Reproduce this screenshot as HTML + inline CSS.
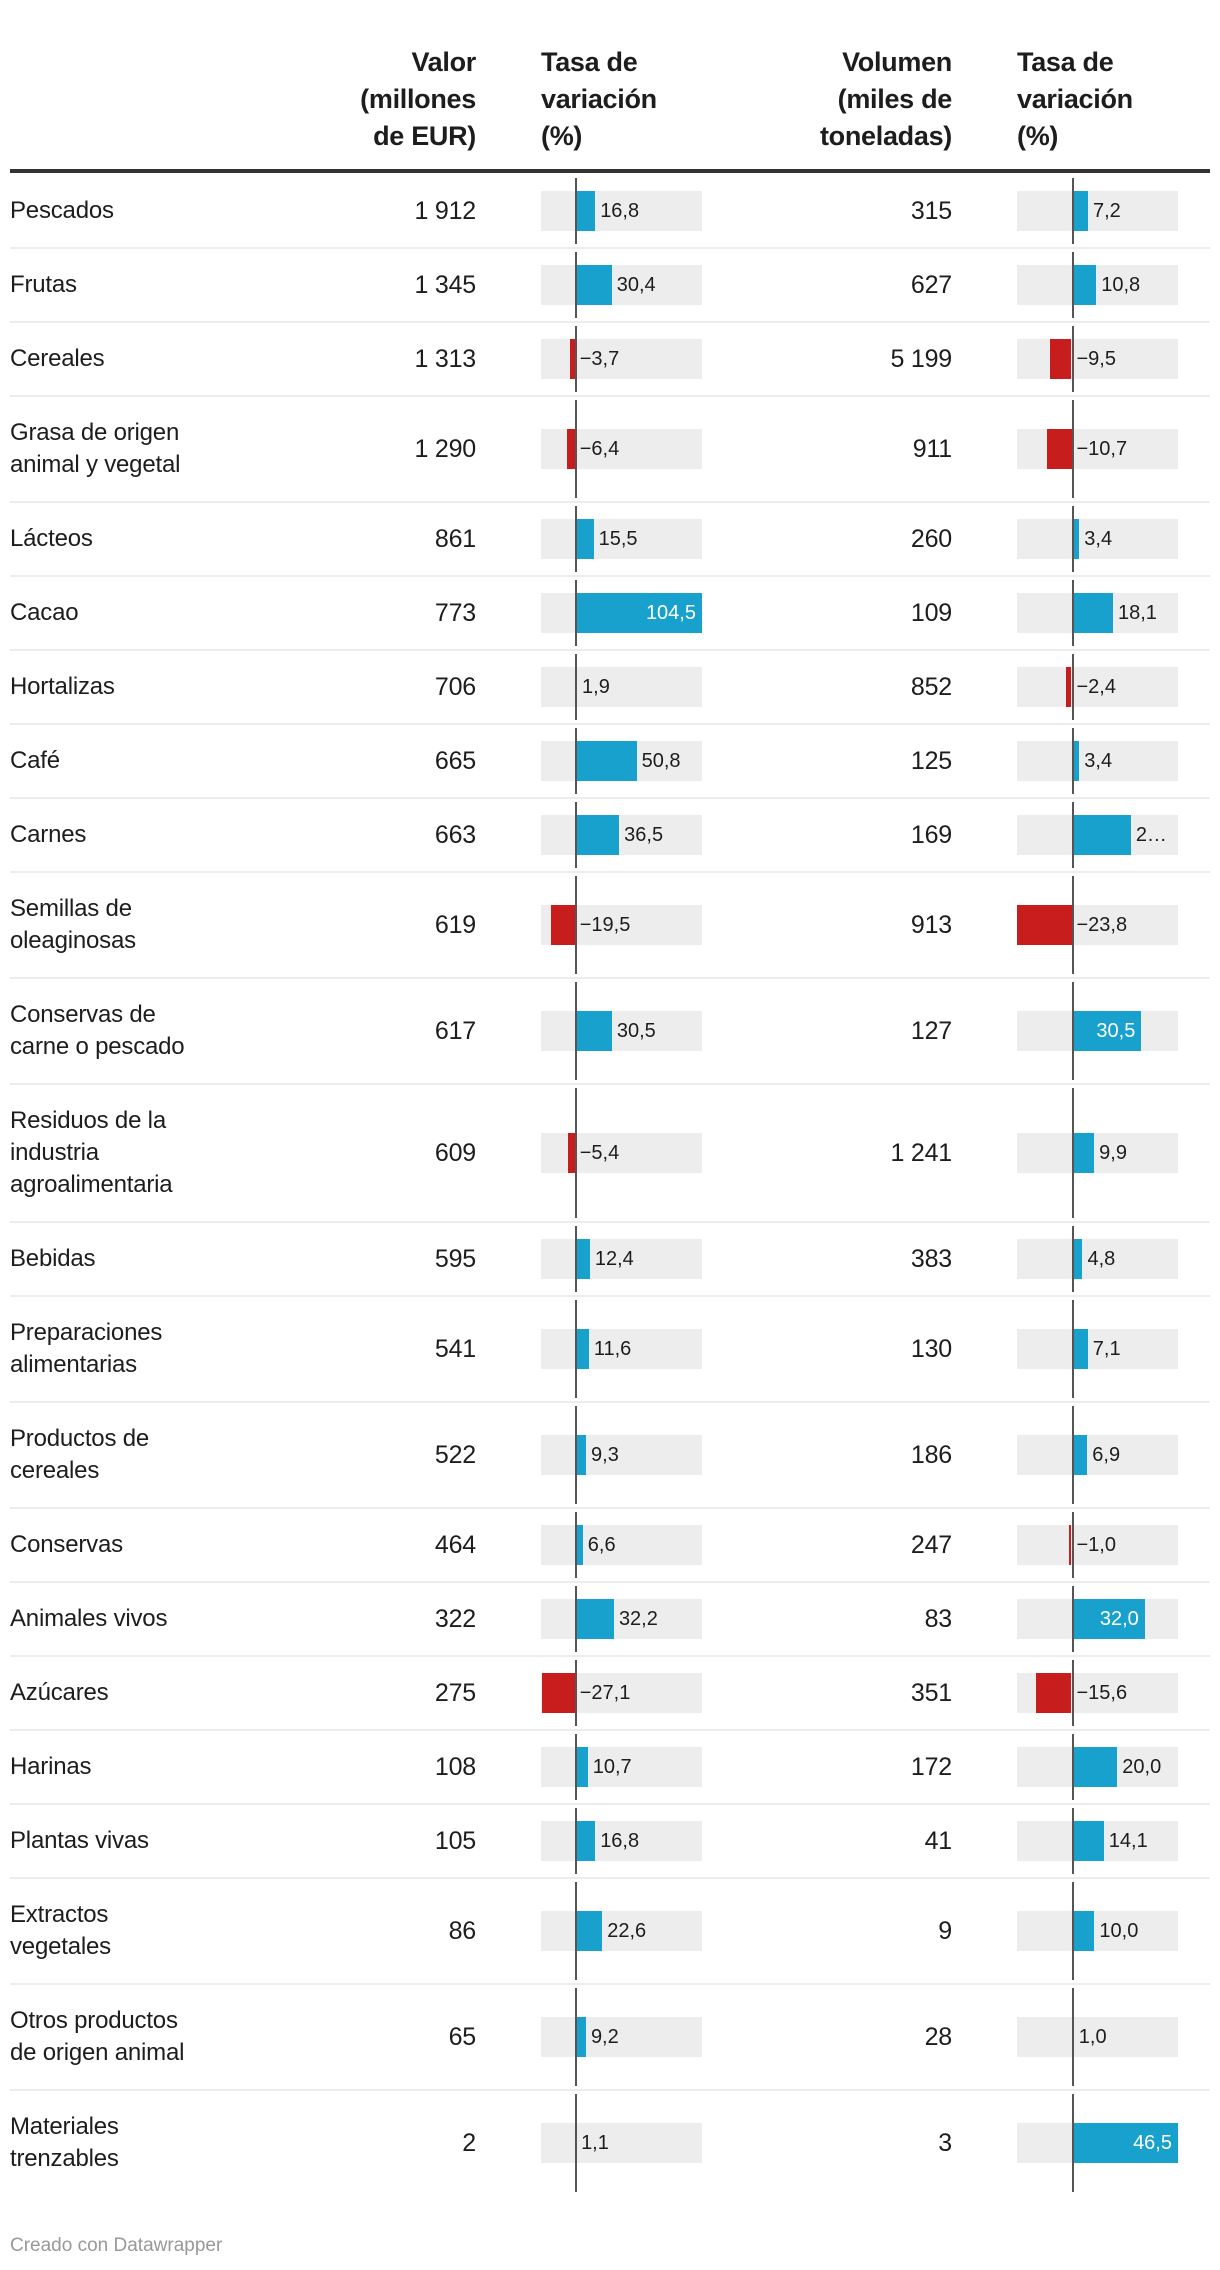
<!DOCTYPE html>
<html><head><meta charset="utf-8">
<style>
body{margin:0;background:#fff;width:1220px;height:2270px;position:relative;overflow:hidden;font-family:"Liberation Sans",sans-serif;color:#1d1d1d}
.a{position:absolute}
.hdr{position:absolute;font-weight:bold;font-size:27px;line-height:37px;color:#1d1d1d;letter-spacing:-0.3px}
.lbl{position:absolute;left:10px;font-size:24px;line-height:32px;letter-spacing:-0.2px}
.num{position:absolute;font-size:25px;text-align:right;letter-spacing:-0.2px}
.bl{position:absolute;font-size:20px;line-height:40px;white-space:nowrap}
</style></head><body>
<div class="hdr" style="right:744px;top:44px;text-align:right">Valor<br>(millones<br>de EUR)</div>
<div class="hdr" style="left:541px;top:44px">Tasa de<br>variación<br>(%)</div>
<div class="hdr" style="right:268px;top:44px;text-align:right">Volumen<br>(miles de<br>toneladas)</div>
<div class="hdr" style="left:1017px;top:44px">Tasa de<br>variación<br>(%)</div>
<div class="a" style="left:10px;top:169px;width:1200px;height:4px;background:#333"></div>
<div id="rows"></div>
<div class="a" style="left:10px;top:2235px;font-size:19px;color:#999">Creado con Datawrapper</div>
<script>
const names=["Pescados","Frutas","Cereales","Grasa de origen<br>animal y vegetal","Lácteos","Cacao","Hortalizas","Café","Carnes","Semillas de<br>oleaginosas","Conservas de<br>carne o pescado","Residuos de la<br>industria<br>agroalimentaria","Bebidas","Preparaciones<br>alimentarias","Productos de<br>cereales","Conservas","Animales vivos","Azúcares","Harinas","Plantas vivas","Extractos<br>vegetales","Otros productos<br>de origen animal","Materiales<br>trenzables"];
const valor=["1 912","1 345","1 313","1 290","861","773","706","665","663","619","617","609","595","541","522","464","322","275","108","105","86","65","2"];
const tasaValor=[16.8,30.4,-3.7,-6.4,15.5,104.5,1.9,50.8,36.5,-19.5,30.5,-5.4,12.4,11.6,9.3,6.6,32.2,-27.1,10.7,16.8,22.6,9.2,1.1];
const volumen=["315","627","5 199","911","260","109","852","125","169","913","127","1 241","383","130","186","247","83","351","172","41","9","28","3"];
const tasaVolumen=[7.2,10.8,-9.5,-10.7,3.4,18.1,-2.4,3.4,25.9,-23.8,30.5,9.9,4.8,7.1,6.9,-1.0,32.0,-15.6,20.0,14.1,10.0,1.0,46.5];
const volLabelOverride={8:"2…"};

const c1={x0:541,x1:702,min:-27.7,max:104.5};
const c2={x0:1017,x1:1178,min:-23.8,max:46.5};
function sx(c,v){return c.x0+(v-c.min)/(c.max-c.min)*(c.x1-c.x0);}
function fmt(v){return (v<0?"−":"")+Math.abs(v).toFixed(1).replace(".",",");}
const root=document.getElementById("rows");
let y=174;
function mk(cls,css,html){const d=document.createElement("div");d.className=cls;d.style.cssText=css;if(html!==undefined)d.innerHTML=html;root.appendChild(d);return d;}
function bar(c,v,cy,label,key){
  const z=sx(c,0),e=sx(c,v);
  const g=mk("a",`left:${c.x0}px;top:${cy-20}px;width:${c.x1-c.x0}px;height:40px;background:#ededed`);
  
  
  const b=mk("a",`left:${Math.min(z,e)}px;top:${cy-20}px;width:${Math.abs(e-z)}px;height:40px;background:${v<0?'#c71e1d':'#18a1cd'}`);
  
  
  let t;
  if(v>=0 && c.x1-e<44 && label.indexOf("…")<0){
    t=mk("bl",`right:${1220-e+6}px;top:${cy-20}px;color:#fff`,label);
  }else{
    const lx=(v<0?z:e)+5;
    t=mk("bl",`left:${lx}px;top:${cy-20}px;color:#1d1d1d`,label);
  }
  
  
}
names.forEach((n,i)=>{
  const lines=n.split("<br>").length;
  const h=lines===1?74:lines===2?106:138;
  const cy=y+h/2;
  if(i>0){const s=mk("a",`left:10px;top:${y-1}px;width:1200px;height:2px;background:#ececec`);
    
    }
  const l=mk("lbl",`top:${cy-lines*16}px`,n);
  
  
  const a=mk("num",`right:744px;top:${cy-15}px;line-height:30px`,valor[i]);
  
  
  const b=mk("num",`right:268px;top:${cy-15}px;line-height:30px`,volumen[i]);
  
  
  bar(c1,tasaValor[i],cy,fmt(tasaValor[i]),'tasa-valor');
  bar(c2,tasaVolumen[i],cy,volLabelOverride[i]||fmt(tasaVolumen[i]),'tasa-volumen');
  [c1,c2].forEach(c=>{const z=mk("a",`left:${Math.round(sx(c,0))}px;top:${y+4}px;width:2px;height:${h-8}px;background:#555`);
    
    });
  y+=h;
});
</script>
</body></html>
